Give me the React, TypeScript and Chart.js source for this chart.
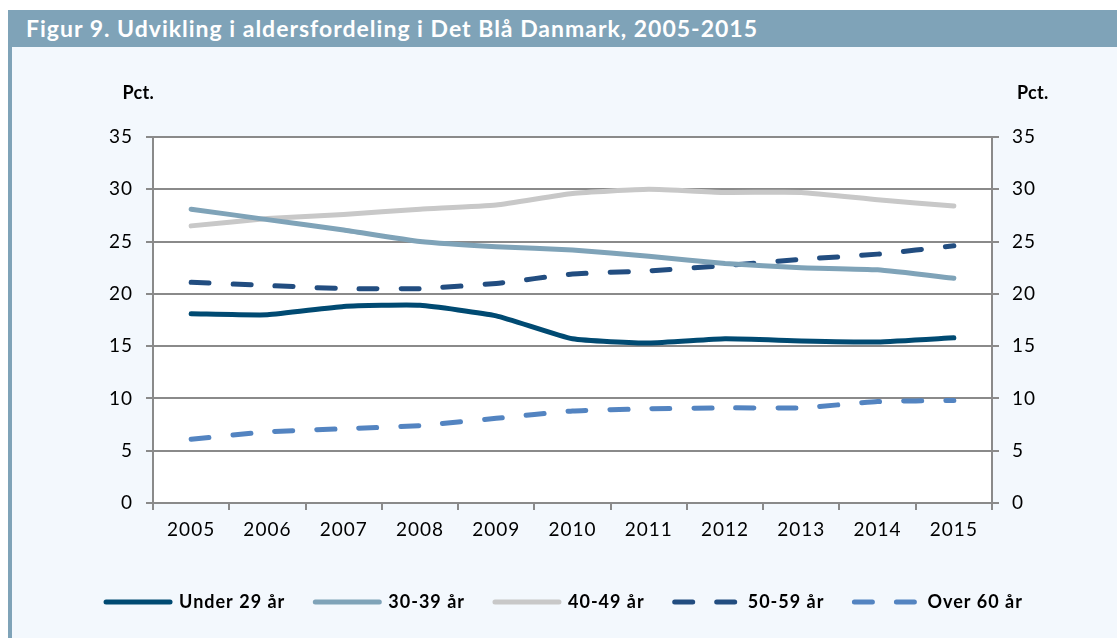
import React, { useEffect, useRef } from "react";
import { Chart, registerables } from "chart.js";

Chart.register(...registerables);

const years = ["2005", "2006", "2007", "2008", "2009", "2010", "2011", "2012", "2013", "2014", "2015"];
const under29 = [18.1, 18.0, 18.8, 18.9, 17.9, 15.7, 15.3, 15.7, 15.5, 15.4, 15.8];
const age3039 = [28.1, 27.1, 26.1, 25.0, 24.5, 24.2, 23.6, 22.9, 22.5, 22.3, 21.5];
const age4049 = [26.5, 27.2, 27.6, 28.1, 28.5, 29.6, 30.0, 29.7, 29.7, 29.0, 28.4];
const age5059 = [21.1, 20.8, 20.5, 20.5, 21.0, 21.9, 22.2, 22.7, 23.3, 23.8, 24.6];
const over60 = [6.1, 6.8, 7.1, 7.4, 8.1, 8.8, 9.0, 9.1, 9.1, 9.7, 9.8];
const seriesLabels = ["Under 29 år", "30-39 år", "40-49 år", "50-59 år", "Over 60 år"];
const title = "Figur 9. Udvikling i aldersfordeling i Det Blå Danmark, 2005-2015";
const unitLabel = "Pct.";

const FONT = "Lato, 'Open Sans', sans-serif";
const GRID = "#8a8a8a";

export default function App() {
  const ref = useRef<HTMLCanvasElement | null>(null);

  useEffect(() => {
    if (!ref.current) return;
    const dash = [18, 24];
    const mk = (label: string, data: number[], color: string, dashed: boolean) => ({
      label,
      data,
      borderColor: color,
      backgroundColor: color,
      borderWidth: 5,
      borderCapStyle: "round" as const,
      borderJoinStyle: "round" as const,
      borderDash: dashed ? dash : [],
      pointRadius: 0,
      pointHoverRadius: 0,
      tension: 0.15,
      fill: false,
      yAxisID: "y",
    });

    const spacing = {
      id: "spacing",
      beforeLayout(chart: any) {
        chart.ctx.letterSpacing = "1px";
      },
      beforeDraw(chart: any) {
        const { ctx, chartArea } = chart;
        ctx.letterSpacing = "1px";
        ctx.save();
        ctx.fillStyle = "#ffffff";
        ctx.fillRect(chartArea.left, chartArea.top, chartArea.right - chartArea.left, chartArea.bottom - chartArea.top);
        ctx.restore();
      },
      afterDraw(chart: any) {
        const { ctx, chartArea } = chart;
        ctx.save();
        ctx.letterSpacing = "0.3px";
        ctx.fillStyle = "#000";
        ctx.font = `bold 18px ${FONT}`;
        ctx.textBaseline = "middle";
        ctx.textAlign = "right";
        ctx.fillText(unitLabel, chartArea.left + 1, chartArea.top - 44);
        ctx.textAlign = "left";
        ctx.fillText(unitLabel, chartArea.right + 25, chartArea.top - 44);
        ctx.restore();
      },
    };

    const chart = new Chart(ref.current, {
      type: "line",
      data: {
        labels: years,
        datasets: [
          mk(seriesLabels[0], under29, "#004a72", false),
          mk(seriesLabels[1], age3039, "#7fa3b8", false),
          mk(seriesLabels[2], age4049, "#c8c8c8", false),
          mk(seriesLabels[3], age5059, "#224d80", true),
          mk(seriesLabels[4], over60, "#5384c1", true),
        ],
      },
      options: {
        animation: false,
        responsive: false,
        maintainAspectRatio: false,
        layout: { padding: { top: 90, left: 0, right: 0, bottom: 17 } },
        plugins: {
          tooltip: { enabled: false },
          legend: {
            position: "bottom",
            labels: {
              usePointStyle: true,
              pointStyle: "line",
              pointStyleWidth: 64,
              padding: 30,
              color: "#000",
              font: { family: FONT, size: 18, weight: "bold" },
              generateLabels(chart: any) {
                return chart.data.datasets.map((ds: any, i: number) => ({
                  text: ds.label,
                  strokeStyle: ds.borderColor,
                  fillStyle: ds.borderColor,
                  lineWidth: 5,
                  lineCap: "round",
                  lineDash: ds.borderDash,
                  pointStyle: "line",
                  hidden: false,
                  datasetIndex: i,
                  fontColor: "#000",
                }));
              },
            },
          },
        },
        scales: {
          x: {
            offset: true,
            grid: { display: true, offset: true, drawOnChartArea: false, color: GRID, lineWidth: 2, tickLength: 7 },
            border: { display: true, color: GRID, width: 2 },
            ticks: { color: "#000", font: { family: FONT, size: 19 }, padding: 8, maxRotation: 0, autoSkip: false },
            afterFit(scale: any) {
              scale.height = 60;
            },
          },
          y: {
            position: "left",
            min: 0,
            max: 35,
            ticks: { stepSize: 5, color: "#000", font: { family: FONT, size: 19 }, padding: 13 },
            grid: { color: GRID, lineWidth: 2, tickLength: 7 },
            border: { display: true, color: GRID, width: 2 },
            afterFit(scale: any) {
              scale.width = 141;
            },
          },
          y2: {
            position: "right",
            min: 0,
            max: 35,
            ticks: { stepSize: 5, color: "#000", font: { family: FONT, size: 19 }, padding: 13 },
            grid: { color: GRID, lineWidth: 2, tickLength: 7, drawOnChartArea: false },
            border: { display: true, color: GRID, width: 2 },
            afterFit(scale: any) {
              scale.width = 125;
            },
          },
        },
      },
      plugins: [spacing],
    } as any);
    return () => chart.destroy();
  }, []);

  return (
    <div style={{ position: "fixed", left: 8, top: 10, width: 1109, height: 628, fontFamily: FONT, overflow: "hidden" }}>
      <div
        style={{
          height: 37,
          background: "#7fa3b8",
          color: "#fff",
          fontWeight: 700,
          fontSize: 23,
          letterSpacing: "1px",
          lineHeight: "37px",
          paddingLeft: 18,
          whiteSpace: "nowrap",
          boxSizing: "border-box",
        }}
      >
        {title}
      </div>
      <div style={{ position: "relative", height: 591, background: "#f3f8fd", borderLeft: "4px solid #7fa3b8" }}>
        <canvas ref={ref} width={1105} height={591} style={{ display: "block", width: 1105, height: 591 }} />
      </div>
    </div>
  );
}
